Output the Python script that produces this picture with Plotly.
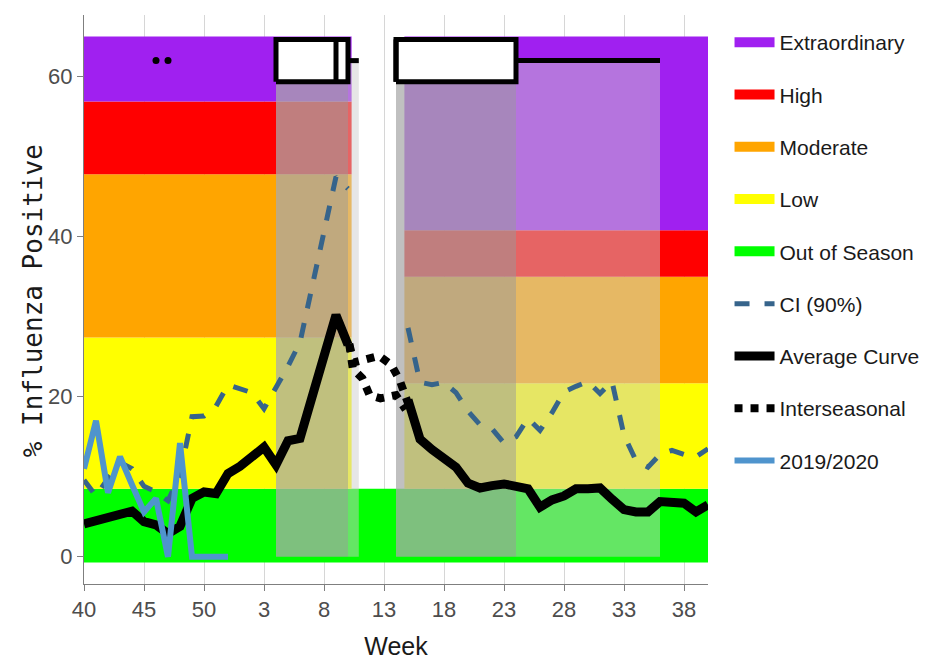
import plotly.graph_objects as go

# ---------------- data ----------------
week_idx_ticks = [0, 5, 10, 15, 20, 25, 30, 35, 40, 45, 50]
week_tick_labels = ["40", "45", "50", "3", "8", "13", "18", "23", "28", "33", "38"]

# Average curve (index 0 = week 40); None = interseasonal gap
avg_x = list(range(0, 53))
avg_y = [4.1, 4.5, 4.9, 5.3, 5.7, 4.4, 4.0, 2.9, 3.8, 7.3,
         8.1, 7.9, 10.4, 11.3, 12.5, 13.7, 11.5, 14.5, 14.8, 19.9,
         25.1, 30.2, 26.5, None, None, None, None, 19.6, 14.7, 13.4,
         12.4, 11.2, 9.2, 8.6, 8.9, 9.1, 8.8, 8.5, 6.2, 7.1,
         7.6, 8.5, 8.5, 8.6, 7.2, 5.9, 5.6, 5.6, 6.9, 6.8,
         6.7, 5.6, 6.5]

# Upper 90% confidence interval
ci_x = list(range(0, 53))
ci_y = [9.6, 7.6, 9.8, 11.8, 11.0, 8.8, 8.1, 7.0, 10.2, 17.5,
        17.6, 18.8, 21.5, 21.0, 20.5, 18.5, 21.0, 23.8, 26.8, 33.5,
        40.5, 47.5, 46.0, None, None, None, None, 28.6, 21.8, 21.5,
        21.8, 20.5, 18.2, 16.5, 16.0, 14.2, 15.0, 17.3, 15.8, 18.0,
        20.6, 21.3, 21.9, 20.4, 21.9, 15.2, 12.0, 11.2, 12.8, 13.3,
        12.8, 12.5, 13.5]

# Interseasonal (two dotted paths)
inter_x = [22.1, 22.5, 23.3, 24.6, 25.6, 26.3, 27.0, None,
           22.1, 22.4, 23.2, 23.8, 24.7, 26.0, 26.8]
inter_y = [26.6, 24.3, 24.6, 25.1, 24.0, 22.1, 19.2, None,
           26.6, 23.5, 22.3, 20.2, 19.8, 20.2, 18.4]

# Season 2019/2020
cur_x = list(range(0, 13))
cur_y = [11.0, 17.0, 8.0, 12.5, 9.0, 5.6, 7.3, 0.0, 14.2, 0.0, 0.0, 0.0, 0.0]

# Threshold bands
level_names = ["Extraordinary", "High", "Moderate", "Low", "Out of Season"]
level_colors = ["#A020F0", "#FF0000", "#FFA500", "#FFFF00", "#00FF00"]
band_bottom = -0.7
green_top = 8.5
plot_top = 65.0
season_x_ranges = [(0.0, 22.3), (26.7, 52.0)]
season_thresholds = [(8.5, 27.4, 47.8, 56.9), (8.5, 21.7, 35.0, 40.8)]

# Season start / end box plots (week index)
box_y = 62.0
box_half = 2.65
box_q1 = [16.0, 26.0]
box_med = [21.0, 26.0]
box_q3 = [22.0, 36.0]
box_upper = [22.9, 48.0]
box_outliers = [6.0, 7.0]

# ---------------- figure ----------------
fig = go.Figure()

def rect(x0, x1, y0, y1, color):
    fig.add_trace(go.Scatter(
        x=[x0, x1, x1, x0, x0], y=[y0, y0, y1, y1, y0],
        mode="lines", fill="toself", fillcolor=color,
        line=dict(width=0, color=color), hoverinfo="skip", showlegend=False))

rect(0.0, 52.0, band_bottom, green_top, level_colors[4])
for (xa, xb), (t_low, t_mod, t_high, t_ext) in zip(season_x_ranges, season_thresholds):
    rect(xa, xb, t_low, t_mod, level_colors[3])
    rect(xa, xb, t_mod, t_high, level_colors[2])
    rect(xa, xb, t_high, t_ext, level_colors[1])
    rect(xa, xb, t_ext, plot_top, level_colors[0])

for q1, q3, up in zip(box_q1, box_q3, box_upper):
    rect(q1, q3, 0.0, box_y, "rgba(170,170,170,0.74)")
    rect(q3, up, 0.0, box_y, "rgba(203,203,203,0.49)")

fig.add_trace(go.Scatter(x=ci_x, y=ci_y, mode="lines", name="CI (90%)",
                         line=dict(color="#36648B", width=5, dash="dash"),
                         legendgroup="ci", legendrank=6))
fig.add_trace(go.Scatter(x=avg_x, y=avg_y, mode="lines", name="Average Curve",
                         line=dict(color="black", width=9),
                         legendgroup="avg", legendrank=7))
fig.add_trace(go.Scatter(x=inter_x, y=inter_y, mode="lines", name="Interseasonal",
                         line=dict(color="black", width=8, dash="dot"),
                         legendgroup="inter", legendrank=8))
fig.add_trace(go.Scatter(x=cur_x, y=cur_y, mode="lines", name="2019/2020",
                         line=dict(color="#4F94CD", width=6),
                         legendgroup="cur", legendrank=9))

for q1, med, q3, up in zip(box_q1, box_med, box_q3, box_upper):
    fig.add_trace(go.Scatter(x=[q3, up], y=[box_y, box_y], mode="lines",
                             line=dict(color="black", width=5),
                             hoverinfo="skip", showlegend=False))
    fig.add_trace(go.Scatter(
        x=[q1, q3, q3, q1, q1],
        y=[box_y - box_half, box_y - box_half, box_y + box_half, box_y + box_half, box_y - box_half],
        mode="lines", fill="toself", fillcolor="white",
        line=dict(color="black", width=5), hoverinfo="skip", showlegend=False))
    fig.add_trace(go.Scatter(x=[med, med], y=[box_y - box_half, box_y + box_half],
                             mode="lines", line=dict(color="black", width=5),
                             hoverinfo="skip", showlegend=False))
fig.add_trace(go.Scatter(x=box_outliers, y=[box_y] * len(box_outliers), mode="markers",
                         marker=dict(color="black", size=7), hoverinfo="skip",
                         showlegend=False))

for i, (nm, col) in enumerate(zip(level_names, level_colors)):
    fig.add_trace(go.Scatter(x=[None], y=[None], mode="lines", name=nm,
                             line=dict(color=col, width=13),
                             legendgroup=nm, legendrank=i + 1))

fig.update_layout(
    width=924, height=656,
    margin=dict(l=76, r=224, t=7, b=80, autoexpand=False),
    plot_bgcolor="white", paper_bgcolor="white",
    font=dict(family="Liberation Sans, Arial, sans-serif", color="#1a1a1a"),
    showlegend=True,
    legend=dict(x=1.0345, xanchor="left", y=0.9877, yanchor="top",
                traceorder="grouped", tracegroupgap=22, itemwidth=40,
                font=dict(size=21, color="#1a1a1a"),
                bgcolor="rgba(0,0,0,0)"),
    xaxis=dict(range=[0, 52], tickvals=week_idx_ticks, ticktext=week_tick_labels,
               showgrid=True, gridcolor="#d6d6d6", gridwidth=1,
               showline=True, linecolor="#7f7f7f", linewidth=1,
               ticks="outside", ticklen=6, tickcolor="#7f7f7f",
               tickfont=dict(size=22, color="#4d4d4d"), automargin=False,
               title=dict(text="Week", font=dict(size=25, color="#1a1a1a"), standoff=16),
               zeroline=False),
    yaxis=dict(range=[-3.4, 67.7], tickvals=[0, 20, 40, 60],
               showgrid=False, showline=True, linecolor="#7f7f7f", linewidth=1,
               ticks="outside", ticklen=6, tickcolor="#7f7f7f",
               tickfont=dict(size=22, color="#4d4d4d"), automargin=False,
               zeroline=False),
    annotations=[dict(text="% Influenza Positive", xref="paper", yref="paper",
                      x=-0.0817, y=0.497, xanchor="center", yanchor="middle",
                      textangle=-90, showarrow=False,
                      font=dict(size=26, family="DejaVu Sans Mono", color="#1a1a1a"))],
)

fig.write_html("out.html")
